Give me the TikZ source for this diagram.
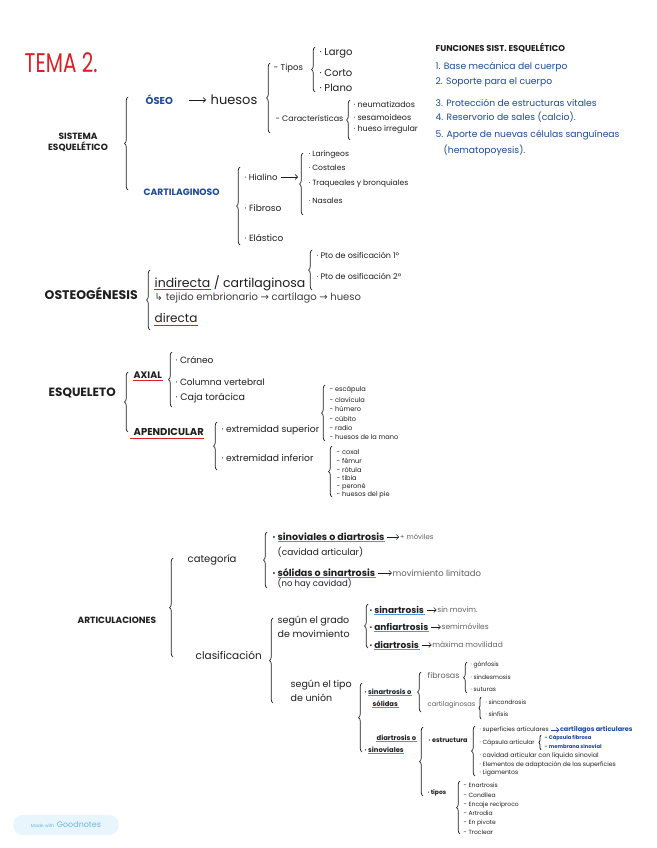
\documentclass[tikz,border=0pt]{standalone}
\usepackage{fontspec}
\setmainfont{Poppins}
\newfontfamily\symfont{DejaVu Sans}
\usetikzlibrary{positioning,decorations.pathreplacing,arrows.meta}
\definecolor{ink}{RGB}{30,30,30}
\definecolor{inkblue}{RGB}{28,72,160}
\definecolor{inkred}{RGB}{218,32,38}
\definecolor{ulblue}{RGB}{70,150,230}
\definecolor{gnblue}{RGB}{105,185,225}
\definecolor{gnfill}{RGB}{232,245,252}

\begin{document}
\begin{tikzpicture}[
  x=1pt, y=-1pt,
  txt/.style={anchor=west, inner sep=0.5pt, text=ink, align=left},
  fs/.style={font=\fontsize{#1}{#1}\selectfont},
  fb/.style={font=\fontsize{#1}{#1}\selectfont\bfseries},
  blu/.style={text=inkblue},
  lite/.style={text=black!62},
  brc/.style={draw=ink, line width=0.7pt, decorate,
              decoration={brace, amplitude=3.5pt}},
  sbrc/.style={brc, decoration={brace, amplitude=2pt}},
  arr/.style={-{Straight Barb[length=2.5pt]}, draw=ink, line width=0.6pt},
  redul/.style={draw=inkred, line width=1pt},
  bluul/.style={draw=ulblue, line width=1pt},
  badge/.style={fill=gnfill, rounded corners=9pt, text=gnblue,
                minimum width=105pt, minimum height=20pt, inner sep=2pt},
]
\fill[white] (0,0) rectangle (656,848);
\useasboundingbox (0,0) rectangle (656,848);

% ---- title ----
\node[txt, fs=20, text=inkred] (tema) at (24,63) {\scalebox{1}[1.35]{TEMA 2.}};

% ---- sistema esqueletico ----
\node[txt, fb=9, anchor=center, align=center] (sist) at (78,142) {SISTEMA\\[2pt]ESQUELÉTICO};
\draw[brc] (128,190) -- (128,97);

\node[txt, fb=10, blu] (oseo) at (145,100) {ÓSEO};
\node[txt, fs=13] (huesos) at (210,100) {huesos};
\draw[arr, shorten <=15pt, shorten >=4pt] (oseo) -- (huesos);

\draw[brc] (270,133) -- (270,63);
\node[txt, fs=8.5] (tipos) at (273,68) {- Tipos};
\draw[brc] (315,92) -- (315,47);
\node[txt, fs=10] (largo) at (319,53) {· Largo};
\node[txt, fs=10] (corto) at (319,73) {· Corto};
\node[txt, fs=10] (plano) at (319,88) {· Plano};
\node[txt, fs=8] (caract) at (275,118) {- Características};
\draw[brc] (350,140) -- (350,100);
\node[txt, fs=8] (neum) at (353,104) {· neumatizados};
\node[txt, fs=8] (sesam) at (353,117) {· sesamoideos};
\node[txt, fs=8] (irreg) at (353,130) {· hueso irregular};

\node[txt, fb=9.2, blu] (cartil) at (143,192) {CARTILAGINOSO};
\draw[brc] (240,245) -- (240,167);
\node[txt, fs=8.5] (hial) at (244,177) {· Hialino};
\coordinate (hialend) at (298,177);
\draw[arr] ([xshift=3pt]hial.east) -- (hialend);
\draw[brc] (303,215) -- (303,153);
\node[txt, fs=7.6] (laring) at (308,155) {· Laríngeos};
\node[txt, fs=7.6] (costal) at (308,168) {· Costales};
\node[txt, fs=7.6] (traq) at (308,184) {· Traqueales y bronquiales};
\node[txt, fs=7.6] (nasal) at (308,201) {· Nasales};
\node[txt, fs=9] (fibroso) at (244,208) {· Fibroso};
\node[txt, fs=9] (elast) at (244,238) {· Elástico};

% ---- funciones ----
\node[txt, fb=8.5] (funtit) at (435,48) {FUNCIONES SIST. ESQUELÉTICO};
\node[txt, fs=9.2, blu] (fun1) at (435,67) {1. Base mecánica del cuerpo};
\node[txt, fs=9.2, blu] (fun2) at (435,82) {2. Soporte para el cuerpo};
\node[txt, fs=9.2, blu] (fun3) at (435,103) {3. Protección de estructuras vitales};
\node[txt, fs=9.2, blu] (fun4) at (435,117) {4. Reservorio de sales (calcio).};
\node[txt, fs=9.2, blu] (fun5) at (435,135) {5. Aporte de nuevas células sanguíneas};
\node[txt, fs=9.2, blu] (fun5b) at (443,150) {(hematopoyesis).};

% ---- osteogenesis ----
\node[txt, fb=12.5] (osteo) at (44,293) {OSTEOGÉNESIS};
\draw[brc] (150,330) -- (150,270);
\node[txt, fs=12.5] (indir) at (154,283) {indirecta};
\node[txt, fs=12.5, anchor=base west] (cartg) at (indir.base east) {\,/ cartilaginosa};
\draw[redul] ([yshift=-1pt]indir.south west) -- ([yshift=-1pt]indir.south east);
\draw[brc] (312,290) -- (312,250);
\node[txt, fs=8] (pto1) at (316,255) {· Pto de osificación 1º};
\node[txt, fs=8] (pto2) at (316,276) {· Pto de osificación 2º};
\node[txt, fs=10, text=ink!85] (tejido) at (154,298) {{\symfont ↳} tejido embrionario {\symfont →} cartílago {\symfont →} hueso};
\node[txt, fs=12] (direc) at (154,318) {directa};
\draw[redul] ([yshift=-2pt]direc.south west) -- ([yshift=-2pt]direc.south east);

% ---- esqueleto ----
\node[txt, fb=12] (esq) at (48,393) {ESQUELETO};
\draw[brc] (128,432) -- (128,372);
\node[txt, fb=9.5] (axial) at (133,375) {AXIAL};
\draw[redul] ([yshift=-1pt]axial.south west) -- ([yshift=-1pt]axial.south east);
\draw[brc] (172,407) -- (172,352);
\node[txt, fs=9] (cran) at (175,360) {· Cráneo};
\node[txt, fs=9] (colum) at (175,382) {· Columna vertebral};
\node[txt, fs=9.5] (caja) at (175,398) {· Caja torácica};
\node[txt, fb=10] (apend) at (133,432) {APENDICULAR};
\draw[redul] ([yshift=-2pt,xshift=-3pt]apend.south west) -- ([yshift=-2pt]apend.south east);
\draw[brc] (217,470) -- (217,422);
\node[txt, fs=9.2] (exsup) at (221,430) {· extremidad superior};
\draw[brc] (325,441) -- (325,385);
\node[txt, fs=6.6] (escap) at (329,390) {- escápula};
\node[txt, fs=6.6] (clavi) at (329,399.5) {- clavícula};
\node[txt, fs=6.6] (humer) at (329,409) {- húmero};
\node[txt, fs=6.6] (cubit) at (329,418.5) {- cúbito};
\node[txt, fs=6.6] (radio) at (329,428) {- radio};
\node[txt, fs=6.6] (mano) at (329,437.5) {- huesos de la mano};
\node[txt, fs=9.2] (exinf) at (221,458) {· extremidad inferior};
\draw[brc] (332,497) -- (332,446);
\node[txt, fs=6.6] (coxal) at (336,452) {- coxal};
\node[txt, fs=6.6] (femur) at (336,461) {- fémur};
\node[txt, fs=6.6] (rotul) at (336,469.5) {- rótula};
\node[txt, fs=6.6] (tibia) at (336,478) {- tibia};
\node[txt, fs=6.6] (peron) at (336,486.5) {- peroné};
\node[txt, fs=6.6] (pie) at (336,495) {- huesos del pie};

% ---- articulaciones ----
\node[txt, fb=9] (artic) at (77,620) {ARTICULACIONES};
\draw[brc] (173,657) -- (173,558);
\node[txt, fs=10] (categ) at (187,560) {categoría};
\draw[brc] (267,588) -- (267,532);
\node[txt, fb=9.5] (sinov) at (272,537) {· sinoviales o diartrosis};
\draw[bluul] ([xshift=6pt]sinov.south west) -- (sinov.south east);
\node[txt, fs=7, lite, right=14pt of sinov] (movil) {+ móviles};
\draw[arr, shorten <=2pt] (sinov) -- (movil);
\node[txt, fs=9] (cavid) at (277,552) {(cavidad articular)};
\node[txt, fb=9.5] (solid) at (272,573) {· sólidas o sinartrosis};
\draw[bluul] ([xshift=6pt]solid.south west) -- (solid.south east);
\node[txt, fs=8.5, lite, right=16pt of solid] (limit) {movimiento limitado};
\draw[arr, shorten <=2pt] (solid) -- (limit);
\node[txt, fs=8.5] (nocav) at (277,584) {(no hay cavidad)};

\node[txt, fs=10.5] (clasif) at (195,655) {clasificación};
\draw[brc] (273,703) -- (273,618);
\node[txt, fs=9.5] (grado) at (277,627) {según el grado\\[3pt]de movimiento};
\draw[brc] (368,648) -- (368,604);
\node[txt, fb=9] (sinar) at (369,610) {· sinartrosis};
\draw[bluul] ([xshift=5pt]sinar.south west) -- (sinar.south east);
\node[txt, fs=7.5, lite, right=12pt of sinar] (sinmov) {sin movim.};
\draw[arr, shorten <=2pt] (sinar) -- (sinmov);
\node[txt, fb=9] (anfi) at (369,627) {· anfiartrosis};
\draw[bluul] ([xshift=5pt]anfi.south west) -- (anfi.south east);
\node[txt, fs=7.5, lite, right=12pt of anfi] (semimov) {semimóviles};
\draw[arr, shorten <=2pt] (anfi) -- (semimov);
\node[txt, fb=9] (diar) at (369,645) {· diartrosis};
\draw[bluul] ([xshift=5pt]diar.south west) -- (diar.south east);
\node[txt, fs=7.5, lite, right=12pt of diar] (maxmov) {máxima movilidad};
\draw[arr, shorten <=2pt] (diar) -- (maxmov);

\node[txt, fs=9.5] (union) at (290,691) {según el tipo\\[3pt]de unión};
\draw[brc] (362,752) -- (362,683);
\node[txt, fb=6.8] (sinsol) at (364,692) {· sinartrosis o};
\draw[bluul] ([xshift=4pt]sinsol.south west) -- (sinsol.south east);
\node[txt, fb=6.8] (solidas) at (372,704) {sólidas};
\draw[bluul] (solidas.south west) -- (solidas.south east);
\draw[brc] (421,712) -- (421,672);
\node[txt, fs=8, lite] (fibros) at (427,675) {fibrosas};
\draw[brc] (467,693) -- (467,662);
\node[txt, fs=6] (gonf) at (470,665) {· gónfosis};
\node[txt, fs=6] (sindes) at (470,677) {· sindesmosis};
\node[txt, fs=6] (sutur) at (470,689) {· suturas};
\node[txt, fs=6.7, lite] (cartil2) at (427,705) {cartilaginosas};
\draw[sbrc] (481,719) -- (481,697);
\node[txt, fs=6] (sincon) at (485,702) {· sincondrosis};
\node[txt, fs=6] (sinfi) at (485,714) {· sínfisis};

\node[txt, fb=6.8] (diaro) at (376,738) {diartrosis o};
\draw[bluul] (diaro.south west) -- (diaro.south east);
\node[txt, fb=6.8] (sinovs) at (364,750) {· sinoviales};
\draw[bluul] ([xshift=4pt]sinovs.south west) -- (sinovs.south east);
\draw[brc] (423,796) -- (423,727);
\node[txt, fb=6.5] (estruc) at (428,740) {· estructura};
\draw[brc] (475,776) -- (475,726);
\node[txt, fs=6] (superf) at (479,730) {· superficies articulares};
\node[txt, fb=6.5, blu, right=10pt of superf] (cartart) {cartílagos articulares};
\draw[arr, draw=inkblue, shorten <=2pt] (superf) -- (cartart);
\node[txt, fs=6] (capsul) at (479,743) {· Cápsula articular};
\draw[sbrc] (541,750) -- (541,735);
\node[txt, fb=5.2, blu] (capfib) at (544,738) {- Cápsula fibrosa};
\node[txt, fb=5.2, blu] (membr) at (544,746) {- membrana sinovial};
\node[txt, fs=6.3] (cavli) at (479,756) {· cavidad articular con líquido sinovial};
\node[txt, fs=6.1] (elem) at (479,764.5) {· Elementos de adaptación de las superficies};
\node[txt, fs=6.1] (ligam) at (479,773) {· Ligamentos};
\node[txt, fb=6] (tiposb) at (427,793) {· tipos};
\draw[brc] (460,834) -- (460,781);
\node[txt, fs=6] (enar) at (463,785) {- Enartrosis};
\node[txt, fs=6] (condil) at (463,795) {- Condílea};
\node[txt, fs=6] (encaj) at (463,805) {- Encaje recíproco};
\node[txt, fs=6] (artrod) at (463,813.5) {- Artrodia};
\node[txt, fs=6] (pivot) at (463,823) {- En pivote};
\node[txt, fs=6] (trocl) at (463,832) {- Troclear};

% ---- badge ----
\node[badge] (goodn) at (66,825)
  {{\fontsize{4.5}{5}\selectfont Made with} {\fontsize{8}{9}\selectfont Goodnotes}};
\end{tikzpicture}
\end{document}
